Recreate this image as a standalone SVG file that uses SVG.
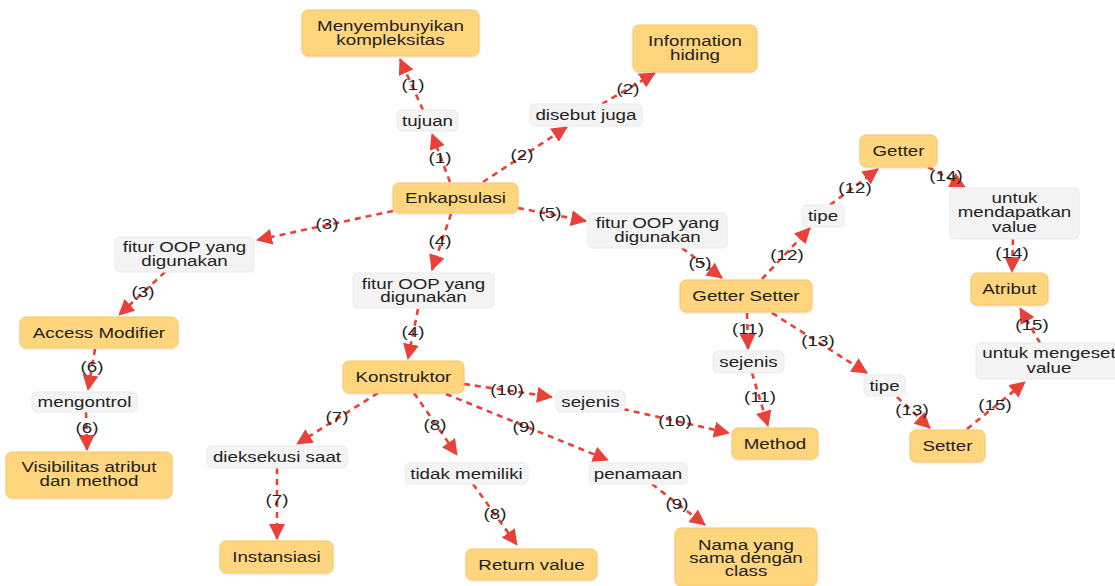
<svg xmlns="http://www.w3.org/2000/svg" width="1115" height="586" viewBox="0 0 1115 586">
<style>
text{font-family:"Liberation Sans",Arial,sans-serif;font-size:15px;fill:#222;text-anchor:middle;transform-box:fill-box;transform-origin:center;transform:scaleX(1.25)}
.node rect{fill:#FFD67E;stroke:#F4C868;stroke-width:1}
.lbl rect{fill:#F4F4F4;stroke:#EAEAEA;stroke-width:1}
.edge line{stroke:#E8413A;stroke-width:2.6;stroke-dasharray:6 5;fill:none}
</style>
<defs>
<marker id="ah" markerUnits="userSpaceOnUse" markerWidth="16" markerHeight="16" refX="15" refY="8" orient="auto" viewBox="0 0 16 16">
<path d="M0,0 L16,8 L0,16 z" fill="#E8413A"/>
</marker>
<filter id="sh" x="-10%" y="-10%" width="120%" height="130%">
<feDropShadow dx="0" dy="1" stdDeviation="1" flood-color="#000" flood-opacity="0.12"/>
</filter>
</defs>
<rect width="1115" height="586" fill="#fff"/>

<g id="connectors" class="edge">
<line x1="450" y1="182" x2="432" y2="134" marker-end="url(#ah)"/>
<line x1="423" y1="110" x2="400" y2="59" marker-end="url(#ah)"/>
<line x1="483" y1="182" x2="567" y2="127" marker-end="url(#ah)"/>
<line x1="602" y1="104" x2="655" y2="73" marker-end="url(#ah)"/>
<line x1="393" y1="211" x2="257" y2="240" marker-end="url(#ah)"/>
<line x1="165" y1="272" x2="119" y2="315" marker-end="url(#ah)"/>
<line x1="451" y1="214" x2="432" y2="270" marker-end="url(#ah)"/>
<line x1="418" y1="309" x2="408" y2="359" marker-end="url(#ah)"/>
<line x1="518" y1="208" x2="586" y2="221" marker-end="url(#ah)"/>
<line x1="682" y1="248" x2="722" y2="278" marker-end="url(#ah)"/>
<line x1="95" y1="349" x2="88" y2="390" marker-end="url(#ah)"/>
<line x1="86" y1="412" x2="87" y2="450" marker-end="url(#ah)"/>
<line x1="378" y1="393" x2="297" y2="444" marker-end="url(#ah)"/>
<line x1="277" y1="468" x2="277" y2="539" marker-end="url(#ah)"/>
<line x1="414" y1="393" x2="457" y2="455" marker-end="url(#ah)"/>
<line x1="473" y1="484" x2="517" y2="545" marker-end="url(#ah)"/>
<line x1="446" y1="394" x2="608" y2="460" marker-end="url(#ah)"/>
<line x1="652" y1="484" x2="705" y2="525" marker-end="url(#ah)"/>
<line x1="464" y1="384" x2="552" y2="397" marker-end="url(#ah)"/>
<line x1="623" y1="409" x2="729" y2="433" marker-end="url(#ah)"/>
<line x1="747" y1="313" x2="748" y2="349" marker-end="url(#ah)"/>
<line x1="752" y1="373" x2="768" y2="426" marker-end="url(#ah)"/>
<line x1="762" y1="279" x2="810" y2="228" marker-end="url(#ah)"/>
<line x1="830" y1="205" x2="878" y2="169" marker-end="url(#ah)"/>
<line x1="772" y1="313" x2="867" y2="373" marker-end="url(#ah)"/>
<line x1="897" y1="397" x2="930" y2="428" marker-end="url(#ah)"/>
<line x1="928" y1="167" x2="965" y2="187" marker-end="url(#ah)"/>
<line x1="1013" y1="239" x2="1012" y2="272" marker-end="url(#ah)"/>
<line x1="967" y1="429" x2="1025" y2="382" marker-end="url(#ah)"/>
<line x1="1040" y1="343" x2="1020" y2="308" marker-end="url(#ah)"/>
<g id="edge-labels">
<text x="440" y="163">(1)</text>
<text x="413" y="90">(1)</text>
<text x="522" y="160">(2)</text>
<text x="628" y="94">(2)</text>
<text x="327" y="229">(3)</text>
<text x="143" y="297">(3)</text>
<text x="440" y="246">(4)</text>
<text x="413" y="337">(4)</text>
<text x="550" y="218">(5)</text>
<text x="700" y="268">(5)</text>
<text x="92" y="372">(6)</text>
<text x="87" y="433">(6)</text>
<text x="337" y="422">(7)</text>
<text x="277" y="505">(7)</text>
<text x="435" y="430">(8)</text>
<text x="495" y="519">(8)</text>
<text x="524" y="432">(9)</text>
<text x="677" y="509">(9)</text>
<text x="507" y="395">(10)</text>
<text x="675" y="426">(10)</text>
<text x="748" y="334">(11)</text>
<text x="760" y="402">(11)</text>
<text x="787" y="260">(12)</text>
<text x="855" y="193">(12)</text>
<text x="818" y="346">(13)</text>
<text x="912" y="415">(13)</text>
<text x="946" y="181">(14)</text>
<text x="1012" y="258">(14)</text>
<text x="1032" y="330">(15)</text>
<text x="995" y="410">(15)</text>
</g>
</g>

<g id="n_menyembunyikan" class="node"><rect x="302" y="10" width="177" height="46" rx="6" filter="url(#sh)"/><text x="390.5" y="31">Menyembunyikan<tspan x="390.5" dy="14">kompleksitas</tspan></text></g>
<g id="n_information" class="node"><rect x="633" y="25" width="124" height="47" rx="6" filter="url(#sh)"/><text x="695" y="46">Information<tspan x="695" dy="14">hiding</tspan></text></g>
<g id="n_enkapsulasi" class="node"><rect x="393" y="183" width="125" height="30" rx="6" filter="url(#sh)"/><text x="455.5" y="203">Enkapsulasi</text></g>
<g id="n_access" class="node"><rect x="20" y="317" width="158" height="31" rx="6" filter="url(#sh)"/><text x="99" y="338">Access Modifier</text></g>
<g id="n_konstruktor" class="node"><rect x="343" y="361" width="121" height="32" rx="6" filter="url(#sh)"/><text x="403.5" y="382">Konstruktor</text></g>
<g id="n_visibilitas" class="node"><rect x="6" y="452" width="166" height="46" rx="6" filter="url(#sh)"/><text x="89" y="472">Visibilitas atribut<tspan x="89" dy="14">dan method</tspan></text></g>
<g id="n_instansiasi" class="node"><rect x="220" y="541" width="113" height="32" rx="6" filter="url(#sh)"/><text x="276.5" y="562">Instansiasi</text></g>
<g id="n_return" class="node"><rect x="466" y="549" width="131" height="31" rx="6" filter="url(#sh)"/><text x="531.5" y="570">Return value</text></g>
<g id="n_nama" class="node"><rect x="675" y="528" width="142" height="58" rx="6" filter="url(#sh)"/><text x="746" y="550">Nama yang<tspan x="746" dy="13">sama dengan</tspan><tspan x="746" dy="13">class</tspan></text></g>
<g id="n_method" class="node"><rect x="732" y="428" width="86" height="31" rx="6" filter="url(#sh)"/><text x="775" y="449">Method</text></g>
<g id="n_gettersetter" class="node"><rect x="680" y="280" width="132" height="32" rx="6" filter="url(#sh)"/><text x="746" y="301">Getter Setter</text></g>
<g id="n_getter" class="node"><rect x="860" y="135" width="77" height="32" rx="6" filter="url(#sh)"/><text x="898.5" y="156">Getter</text></g>
<g id="n_atribut" class="node"><rect x="971" y="273" width="77" height="32" rx="6" filter="url(#sh)"/><text x="1009.5" y="294">Atribut</text></g>
<g id="n_setter" class="node"><rect x="910" y="430" width="75" height="32" rx="6" filter="url(#sh)"/><text x="947.5" y="451">Setter</text></g>

<g id="l_tujuan" class="lbl"><rect x="397" y="110" width="61" height="21" rx="5"/><text x="427.5" y="126">tujuan</text></g>
<g id="l_disebut" class="lbl"><rect x="530" y="104" width="112" height="22" rx="5"/><text x="586" y="120">disebut juga</text></g>
<g id="l_fitur3" class="lbl"><rect x="115" y="237" width="139" height="35" rx="5"/><text x="184.5" y="252">fitur OOP yang<tspan x="184.5" dy="14">digunakan</tspan></text></g>
<g id="l_fitur4" class="lbl"><rect x="353" y="273" width="141" height="35" rx="5"/><text x="423.5" y="289">fitur OOP yang<tspan x="423.5" dy="13">digunakan</tspan></text></g>
<g id="l_fitur5" class="lbl"><rect x="588" y="213" width="139" height="35" rx="5"/><text x="657.5" y="228">fitur OOP yang<tspan x="657.5" dy="14">digunakan</tspan></text></g>
<g id="l_mengontrol" class="lbl"><rect x="32" y="392" width="105" height="20" rx="5"/><text x="84.5" y="407">mengontrol</text></g>
<g id="l_dieksekusi" class="lbl"><rect x="207" y="446" width="140" height="22" rx="5"/><text x="277" y="462">dieksekusi saat</text></g>
<g id="l_tidak" class="lbl"><rect x="405" y="463" width="123" height="21" rx="5"/><text x="466.5" y="479">tidak memiliki</text></g>
<g id="l_penamaan" class="lbl"><rect x="589" y="463" width="98" height="21" rx="5"/><text x="638" y="479">penamaan</text></g>
<g id="l_sejenis10" class="lbl"><rect x="556" y="391" width="69" height="21" rx="5"/><text x="590.5" y="407">sejenis</text></g>
<g id="l_sejenis11" class="lbl"><rect x="713" y="351" width="71" height="22" rx="5"/><text x="748.5" y="367">sejenis</text></g>
<g id="l_tipe12" class="lbl"><rect x="802" y="205" width="42" height="22" rx="5"/><text x="823" y="221">tipe</text></g>
<g id="l_tipe13" class="lbl"><rect x="864" y="375" width="41" height="21" rx="5"/><text x="884.5" y="391">tipe</text></g>
<g id="l_mendapatkan" class="lbl"><rect x="950" y="188" width="129" height="51" rx="5"/><text x="1014.5" y="203">untuk<tspan x="1014.5" dy="14">mendapatkan</tspan><tspan x="1014.5" dy="15">value</tspan></text></g>
<g id="l_mengeset" class="lbl"><rect x="976" y="343" width="146" height="36" rx="5"/><text x="1049" y="358">untuk mengeset<tspan x="1049" dy="15">value</tspan></text></g>
</svg>
